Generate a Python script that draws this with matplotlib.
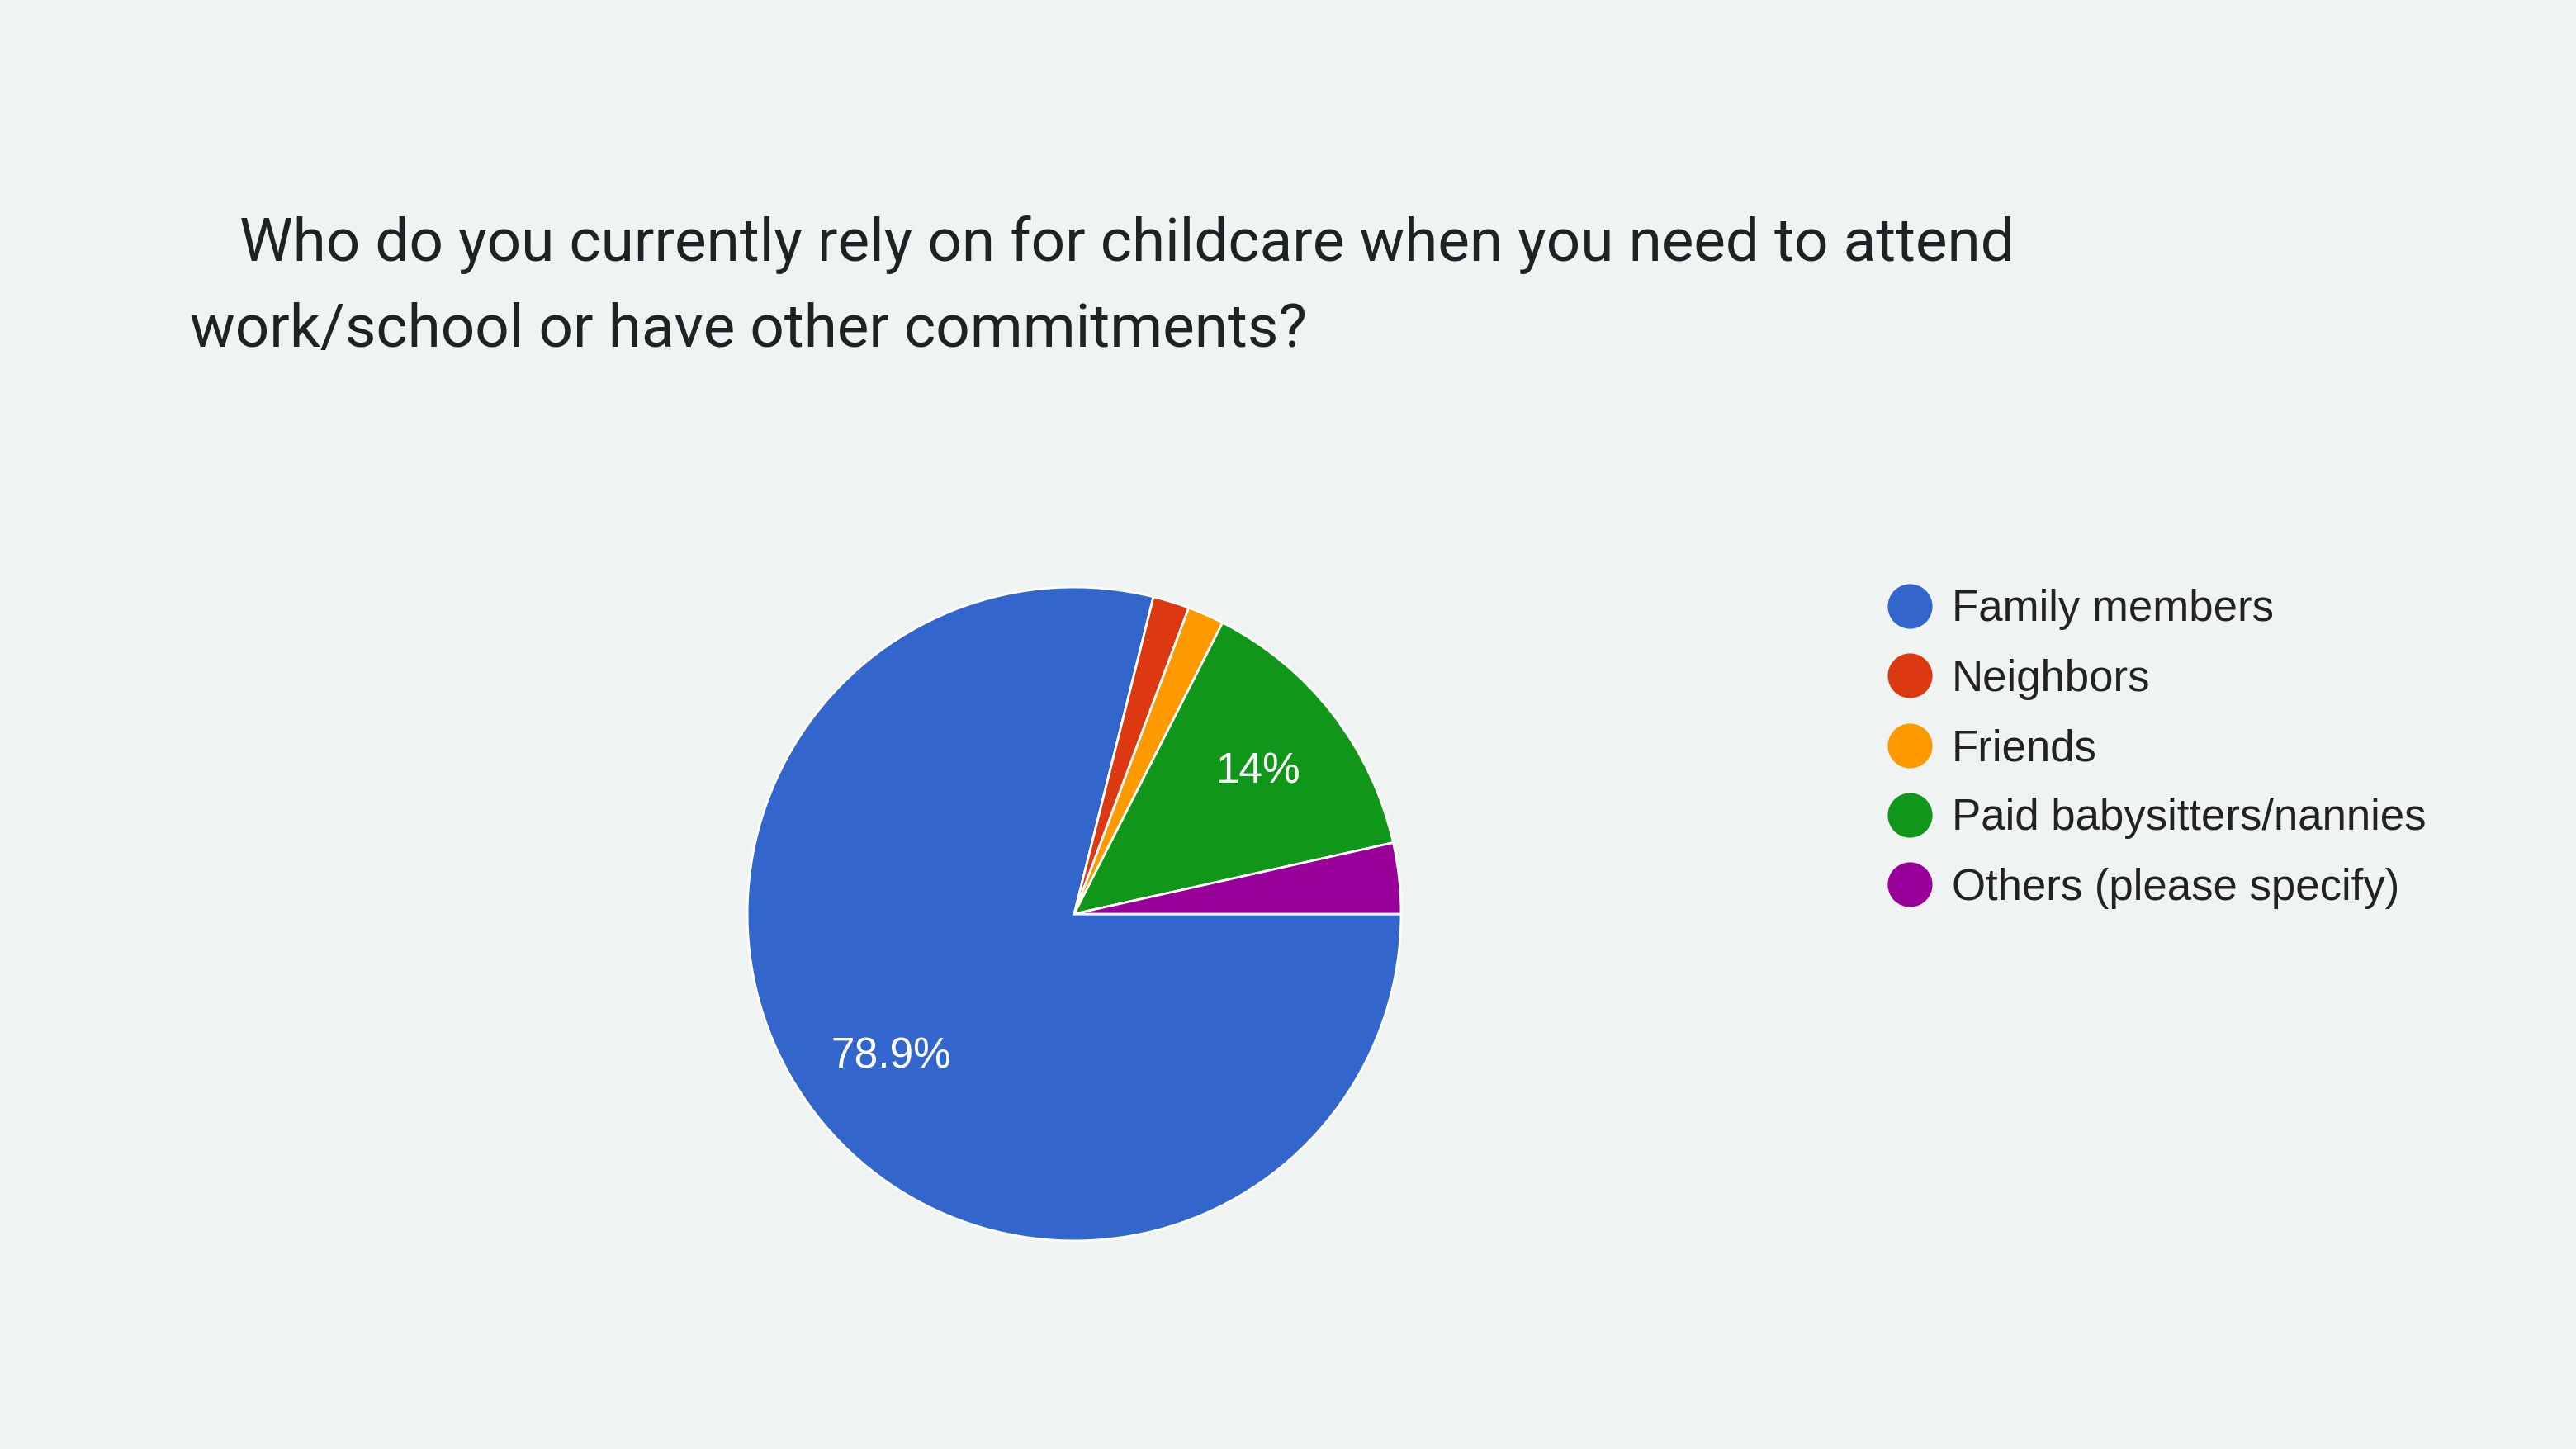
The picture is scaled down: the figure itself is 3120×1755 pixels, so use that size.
import matplotlib.pyplot as plt
from matplotlib.lines import Line2D

# survey answers, percent of respondents
categories = ['Family members', 'Neighbors', 'Friends',
              'Paid babysitters/nannies', 'Others (please specify)']
shares = [78.9, 1.8, 1.8, 14.0, 3.5]
colors = ['#3366cc', '#dc3912', '#ff9900', '#109618', '#990099']

title_line1 = 'Who do you currently rely on for childcare when you need to attend'
title_line2 = 'work/school or have other commitments?'

BG = '#eff3f2'


def pct_label(p):
    # google-style: only label big slices, drop trailing .0
    if p < 5:
        return ''
    return f'{p:.1f}'.rstrip('0').rstrip('.') + '%'


fig = plt.figure(figsize=(31.2, 17.55), dpi=100, facecolor=BG)

fig.text(290 / 3120, 1 - 316 / 1755, title_line1, family='Roboto',
         fontsize=52.5, color='#202124', ha='left', va='baseline')
fig.text(230 / 3120, 1 - 420 / 1755, title_line2, family='Roboto',
         fontsize=52.5, color='#202124', ha='left', va='baseline')

ax = fig.add_axes([0.2901, 0.1436, 0.2538, 0.4513])
ax.set_facecolor(BG)
wedges, texts, autotexts = ax.pie(
    shares, colors=colors, startangle=0, counterclock=False,
    autopct=pct_label, pctdistance=0.71,
    wedgeprops=dict(edgecolor='white', linewidth=2),
    textprops=dict(color='white', fontsize=37, family='Liberation Sans'))
ax.set_xlim(-1, 1)
ax.set_ylim(-1, 1)

handles = [Line2D([], [], marker='o', linestyle='none', markersize=38,
                  markerfacecolor=c, markeredgecolor=c) for c in colors]
fig.legend(handles, categories, loc='center left',
           bbox_to_anchor=(2287 / 3120, 1 - 907 / 1755),
           frameon=False, borderpad=0, borderaxespad=0,
           handlelength=1, handletextpad=0.45, labelspacing=0.65,
           prop=dict(family='Liberation Sans', size=38), labelcolor='#222222')

fig.savefig('out.png', facecolor=BG)
